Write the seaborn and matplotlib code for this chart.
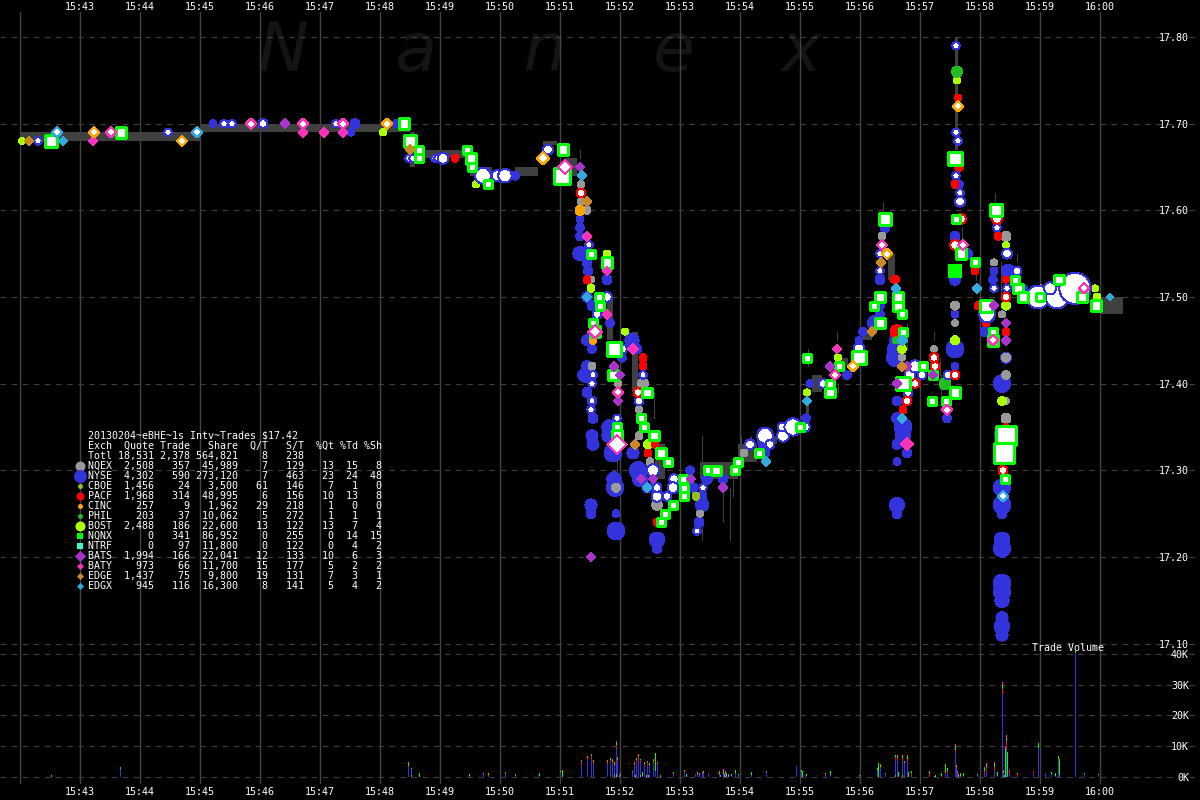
import pandas as pd
import matplotlib
matplotlib.use("Agg")
import matplotlib.pyplot as plt
import seaborn as sns

# All times are seconds after 15:42, prices in dollars, trade sizes in shares.
time_labels = ['', '15:43', '15:44', '15:45', '15:46', '15:47', '15:48', '15:49', '15:50', '15:51',
               '15:52', '15:53', '15:54', '15:55', '15:56', '15:57', '15:58', '15:59', '16:00']
price_ticks = [17.10, 17.20, 17.30, 17.40, 17.50, 17.60, 17.70, 17.80]
volume_ticks = [0, 10, 20, 30, 40]

# exchange summary table
exch = ['NQEX', 'NYSE', 'CBOE', 'PACF', 'CINC', 'PHIL', 'BOST', 'NQNX', 'NTRF', 'BATS', 'BATY', 'EDGE', 'EDGX']
quote = [2508, 4302, 1456, 1968, 257, 203, 2488, 0, 0, 1994, 973, 1437, 945]
trade = [357, 590, 24, 314, 9, 37, 186, 341, 97, 166, 66, 75, 116]
share = [45989, 273120, 3500, 48995, 1962, 10062, 22600, 86952, 11800, 22041, 11700, 9800, 16300]
q_per_t = [7, 7, 61, 6, 29, 5, 13, 0, 0, 12, 15, 19, 8]
s_per_t = [129, 463, 146, 156, 218, 272, 122, 255, 122, 133, 177, 131, 141]
pct_qt = [13, 23, 7, 10, 1, 1, 13, 0, 0, 10, 5, 7, 5]
pct_td = [15, 24, 1, 13, 0, 1, 7, 14, 4, 6, 2, 3, 4]
pct_sh = [8, 48, 0, 8, 0, 1, 4, 15, 2, 3, 2, 1, 2]

colors = {'NQEX': '#999999', 'NYSE': '#3333dd', 'CBOE': '#99bb22', 'PACF': '#ff0000', 'CINC': '#ffa500',
          'PHIL': '#22bb22', 'BOST': '#aaff00', 'NQNX': '#00ff00', 'NTRF': '#33ffcc', 'BATS': '#aa33cc',
          'BATY': '#ff33bb', 'EDGE': '#cc8822', 'EDGX': '#33aadd'}

# best bid / offer band, low == high where there is no band
spread_sec = [0, 180, 390, 395, 450, 472, 495, 518, 523, 537, 545, 557, 587, 593, 612, 618, 635, 645, 680, 718,
              737, 757, 786, 789, 792, 802, 815, 828, 842, 852, 868, 875, 935, 938, 1080, 1103]
spread_lo = [17.68, 17.69, 17.65, 17.66, 17.64, 17.635, 17.64, 17.65, 17.675, 17.64, 17.64, 17.64, 17.45, 17.45,
             17.39, 17.39, 17.29, 17.29, 17.29, 17.31, 17.33, 17.33, 17.35, 17.35, 17.39, 17.39, 17.42, 17.42,
             17.45, 17.45, 17.52, 17.52, 17.67, 17.67, 17.48, 17.48]
spread_hi = [17.69, 17.70, 17.69, 17.67, 17.65, 17.64, 17.65, 17.65, 17.68, 17.64, 17.66, 17.64, 17.50, 17.45,
             17.46, 17.39, 17.33, 17.29, 17.31, 17.33, 17.34, 17.33, 17.38, 17.35, 17.41, 17.39, 17.43, 17.42,
             17.46, 17.45, 17.55, 17.52, 17.80, 17.67, 17.50, 17.48]

wick_sec = [634, 682, 703, 710, 713, 721, 731, 597, 560, 788, 817, 825, 818, 887, 920, 914, 921, 863,
            937, 942, 956, 975, 981, 997, 887]
wick_lo = [17.36, 17.22, 17.24, 17.22, 17.27, 17.33, 17.33, 17.29, 17.66, 17.42, 17.45, 17.41, 17.39, 17.45,
           17.41, 17.45, 17.38, 17.59, 17.69, 17.55, 17.52, 17.61, 17.50, 17.54, 17.44]
wick_hi = [17.39, 17.34, 17.29, 17.28, 17.30, 17.34, 17.34, 17.33, 17.67, 17.44, 17.46, 17.43, 17.40, 17.47,
           17.43, 17.46, 17.41, 17.61, 17.80, 17.58, 17.54, 17.62, 17.54, 17.55, 17.47]

nyse_fill = [(98, 17.69, 2560), (193, 17.70, 2000), (335, 17.70, 3240), (376, 17.70, 2000), (331, 17.69, 2000),
             (495, 17.64, 2560), (560, 17.59, 2000), (560, 17.58, 2560), (560, 17.57, 2560), (560, 17.55, 6760),
             (567, 17.54, 3240), (568, 17.53, 3240), (567, 17.50, 4000), (572, 17.49, 3240), (573, 17.47, 3240),
             (567, 17.45, 4000), (572, 17.44, 2560), (567, 17.42, 4000), (565, 17.41, 6760), (567, 17.39, 3240),
             (572, 17.38, 3240), (573, 17.36, 3240), (572, 17.34, 4840), (573, 17.33, 4840), (571, 17.26, 4840),
             (571, 17.25, 3240), (596, 17.23, 10240), (596, 17.25, 2000), (595, 17.28, 10240), (594, 17.29, 6760),
             (593, 17.32, 10240), (589, 17.35, 6760), (589, 17.34, 6760), (587, 17.52, 3240), (590, 17.47, 2560),
             (595, 17.44, 3240), (602, 17.43, 2560), (612, 17.45, 6760), (617, 17.44, 3240), (613, 17.32, 4840),
             (618, 17.30, 10240), (620, 17.29, 7840), (627, 17.28, 3240), (637, 17.22, 7840), (637, 17.21, 3240),
             (670, 17.30, 2560), (687, 17.29, 4000), (682, 17.27, 3240), (682, 17.26, 5760), (679, 17.24, 3240),
             (673, 17.28, 3240), (703, 17.29, 3240), (745, 17.32, 3240), (743, 17.33, 3240), (786, 17.36, 2560),
             (790, 17.40, 2000), (827, 17.41, 2560), (839, 17.45, 2000), (860, 17.48, 2560), (860, 17.49, 2560),
             (855, 17.47, 7840), (843, 17.46, 2560), (875, 17.43, 10240), (875, 17.44, 7840), (883, 17.35, 10240),
             (883, 17.34, 7840), (877, 17.38, 3240), (877, 17.36, 4000), (877, 17.33, 3240), (887, 17.32, 3240),
             (877, 17.31, 2000), (935, 17.48, 2000), (935, 17.44, 10240), (935, 17.42, 2000), (927, 17.36, 2560),
             (877, 17.26, 7840), (877, 17.25, 3240), (935, 17.52, 4000), (935, 17.57, 3240), (947, 17.55, 4000),
             (939, 17.63, 2560), (860, 17.52, 3240), (865, 17.58, 3240), (974, 17.53, 2000), (973, 17.52, 2560),
             (988, 17.53, 5760), (1003, 17.51, 2560), (965, 17.46, 3240), (875, 17.45, 4000), (982, 17.40, 10240),
             (986, 17.43, 4000), (982, 17.28, 10240), (982, 17.26, 10240), (982, 17.25, 3240), (982, 17.22, 7840),
             (982, 17.21, 10240), (982, 17.17, 10240), (982, 17.16, 10240), (982, 17.15, 6760), (982, 17.13, 4840),
             (982, 17.12, 7840), (982, 17.11, 4840), (982, 17.34, 7840)]

nyse_quote = [(18, 17.68, 1440), (148, 17.69, 1440), (204, 17.70, 1440), (212, 17.70, 1440), (243, 17.70, 2000),
              (316, 17.70, 1440), (177, 17.69, 1440), (389, 17.66, 1440), (393, 17.66, 1440), (415, 17.66, 1440),
              (418, 17.66, 1440), (423, 17.66, 3240), (463, 17.64, 6760), (477, 17.64, 3240), (485, 17.64, 4840),
              (528, 17.67, 2560), (569, 17.56, 1440), (577, 17.48, 2000), (587, 17.50, 2560), (573, 17.41, 1440),
              (572, 17.40, 1440), (572, 17.38, 1440), (571, 17.37, 1440), (597, 17.36, 1440), (602, 17.44, 2560),
              (623, 17.41, 1440), (619, 17.38, 2000), (633, 17.30, 4000), (637, 17.27, 3240), (654, 17.29, 2560),
              (653, 17.28, 3240), (647, 17.27, 2000), (683, 17.28, 1440), (677, 17.23, 1440), (637, 17.28, 2000),
              (730, 17.33, 2560), (745, 17.34, 6760), (763, 17.34, 4000), (750, 17.33, 2000), (762, 17.35, 2000),
              (773, 17.35, 7840), (785, 17.35, 2560), (803, 17.40, 2000), (839, 17.44, 3240), (890, 17.41, 3240),
              (888, 17.39, 2000), (928, 17.41, 2000), (935, 17.41, 2000), (895, 17.42, 4000), (902, 17.41, 2000),
              (936, 17.79, 1440), (938, 17.68, 1440), (936, 17.69, 1440), (939, 17.66, 2000), (936, 17.64, 1440),
              (940, 17.62, 1440), (940, 17.61, 2560), (860, 17.55, 1440), (860, 17.53, 1440), (967, 17.48, 6760),
              (974, 17.51, 1440), (987, 17.51, 1440), (997, 17.53, 2000), (987, 17.55, 2560), (977, 17.58, 1440),
              (1018, 17.50, 14000), (1037, 17.50, 14000), (1030, 17.51, 4000), (1055, 17.51, 26000), (1077, 17.49, 2560)]

pacf_fill = [(435, 17.66, 2560), (567, 17.52, 2560), (623, 17.43, 2560), (623, 17.42, 2560), (635, 17.33, 2560),
             (628, 17.32, 2560), (637, 17.24, 2560), (938, 17.73, 2000), (939, 17.65, 3240), (935, 17.63, 2560),
             (955, 17.53, 2560), (875, 17.52, 3240), (978, 17.57, 2560), (986, 17.52, 2000), (958, 17.49, 2560),
             (966, 17.47, 2560), (986, 17.46, 2560), (883, 17.37, 2560), (877, 17.46, 7840), (986, 17.35, 2000)]

pacf_quote = [(561, 17.62, 2000), (618, 17.39, 2000), (914, 17.43, 2000), (915, 17.42, 2000), (935, 17.41, 2000),
              (895, 17.40, 2000), (887, 17.38, 2000), (941, 17.59, 2560), (977, 17.59, 2560), (935, 17.56, 2560),
              (986, 17.50, 2000), (985, 17.32, 2000), (983, 17.30, 2000)]

nqex_fill = [(561, 17.63, 2000), (561, 17.61, 2000), (567, 17.60, 2560), (571, 17.52, 2000), (572, 17.42, 2560),
             (598, 17.40, 2000), (623, 17.40, 4840), (619, 17.37, 2000), (619, 17.34, 2560), (630, 17.31, 2560),
             (596, 17.28, 3240), (637, 17.26, 4840), (724, 17.32, 2560), (680, 17.25, 2000), (882, 17.43, 2000),
             (914, 17.44, 2000), (986, 17.43, 3240), (986, 17.41, 3240), (986, 17.38, 2000), (986, 17.36, 4000),
             (935, 17.49, 3240), (935, 17.47, 2000), (974, 17.54, 2000), (986, 17.57, 4000), (982, 17.48, 2000),
             (862, 17.57, 2560)]

bost_fill = [(571, 17.51, 2560), (628, 17.33, 3240), (605, 17.46, 2000), (587, 17.55, 2000), (2, 17.68, 2000),
             (363, 17.69, 2000), (456, 17.63, 2000), (787, 17.39, 2000), (818, 17.43, 2000), (860, 17.47, 2000),
             (882, 17.44, 3240), (935, 17.45, 3240), (937, 17.75, 2000), (986, 17.49, 3240), (1075, 17.51, 2000),
             (1077, 17.50, 2560), (986, 17.56, 2000), (982, 17.38, 3240), (31, 17.68, 2000), (955, 17.54, 2000)]

phil_fill = [(937, 17.76, 4840), (925, 17.40, 5760), (876, 17.45, 2000)]
cinc_fill = [(560, 17.60, 4000), (573, 17.45, 2560)]
cboe_fill = [(676, 17.27, 2560), (1021, 17.51, 2000)]
nqnx_fill = [(935, 17.53, 7840)]

nqnx_quote = [(31, 17.68, 3240), (101, 17.69, 2560), (384, 17.70, 2560), (390, 17.68, 3240), (399, 17.67, 1440),
              (399, 17.66, 1440), (447, 17.67, 1440), (451, 17.66, 2560), (452, 17.65, 1440), (468, 17.63, 1440),
              (543, 17.67, 2560), (542, 17.64, 5760), (571, 17.55, 1440), (579, 17.50, 1440), (580, 17.49, 1440),
              (573, 17.47, 1440), (575, 17.46, 2560), (587, 17.54, 2560), (594, 17.44, 4840), (593, 17.41, 2560),
              (597, 17.35, 1440), (597, 17.34, 2560), (627, 17.39, 2000), (621, 17.36, 1440), (624, 17.35, 1440),
              (634, 17.34, 2000), (641, 17.32, 2560), (648, 17.31, 1440), (663, 17.29, 1440), (664, 17.28, 1440),
              (664, 17.27, 1440), (653, 17.26, 1440), (645, 17.25, 1440), (641, 17.24, 1440), (688, 17.30, 1440),
              (696, 17.30, 2000), (715, 17.30, 1440), (739, 17.32, 1440), (718, 17.31, 1440), (787, 17.43, 1440),
              (810, 17.39, 2000), (810, 17.40, 1440), (819, 17.42, 1440), (839, 17.43, 4000), (780, 17.35, 1440),
              (860, 17.47, 2560), (854, 17.49, 1440), (878, 17.49, 2560), (882, 17.48, 1440), (883, 17.46, 1440),
              (883, 17.40, 4000), (912, 17.38, 1440), (935, 17.39, 2560), (913, 17.41, 1440), (926, 17.38, 1440),
              (865, 17.59, 3240), (860, 17.50, 2000), (878, 17.50, 2560), (935, 17.66, 4000), (936, 17.59, 1440),
              (941, 17.55, 2560), (955, 17.54, 1440), (976, 17.60, 3240), (966, 17.49, 3240), (973, 17.46, 1440),
              (973, 17.45, 2560), (995, 17.52, 1440), (998, 17.51, 2000), (1003, 17.50, 2000), (1020, 17.50, 1440),
              (1039, 17.52, 2000), (1062, 17.50, 2000), (1076, 17.49, 2560), (986, 17.34, 8400), (984, 17.32, 8400),
              (985, 17.29, 1440), (903, 17.42, 1440)]

white_diamonds_cyan = [(37, 17.69, 1440), (177, 17.69, 1440), (983, 17.27, 1440)]
white_diamonds_orange = [(74, 17.69, 1440), (162, 17.68, 1440), (367, 17.70, 1440), (938, 17.72, 1440),
                         (867, 17.55, 1440), (523, 17.66, 2000), (833, 17.42, 1440)]
white_diamonds_pink = [(91, 17.69, 1440), (231, 17.70, 1440), (283, 17.70, 1440), (323, 17.70, 1440),
                       (545, 17.65, 2560), (597, 17.33, 5000), (598, 17.39, 1440), (575, 17.46, 2560),
                       (927, 17.37, 1440), (815, 17.41, 1440), (862, 17.56, 1440), (943, 17.56, 1440),
                       (1064, 17.51, 1440), (973, 17.45, 1440)]

baty_fill = [(73, 17.68, 1440), (283, 17.69, 1440), (304, 17.69, 1440), (323, 17.69, 1440), (567, 17.57, 1440),
             (587, 17.53, 1440), (587, 17.48, 1440), (817, 17.44, 1440), (887, 17.33, 2560), (613, 17.44, 2000)]
bats_fill = [(265, 17.70, 1440), (560, 17.65, 1440), (600, 17.41, 1440), (598, 17.38, 1440), (621, 17.29, 1440),
             (633, 17.29, 1440), (671, 17.29, 1440), (703, 17.28, 1440), (571, 17.20, 1440), (810, 17.42, 1440),
             (887, 17.42, 1440), (877, 17.40, 1440), (913, 17.41, 1440), (986, 17.47, 1440), (986, 17.45, 1440),
             (974, 17.49, 1440), (594, 17.42, 1440)]
edgx_fill = [(43, 17.68, 1440), (562, 17.64, 1440), (567, 17.50, 1440), (746, 17.31, 1440), (787, 17.38, 1440),
             (882, 17.45, 1440), (882, 17.36, 1440), (957, 17.51, 1440), (876, 17.51, 1440), (883, 17.45, 1440),
             (627, 17.28, 1440), (1090, 17.50, 600)]
edge_fill = [(9, 17.68, 1440), (567, 17.61, 1440), (861, 17.54, 1440), (615, 17.33, 1440), (882, 17.42, 1440),
             (852, 17.46, 1440), (390, 17.67, 1440)]

# trade volume, thousands of shares per second
vol_sec = [31, 100, 388, 391, 399, 449, 463, 468, 485, 495, 519, 540, 542, 561, 567, 571, 573, 587, 590, 592, 594,
           596, 597, 600, 612, 614, 616, 618, 620, 622, 624, 627, 629, 633, 635, 637, 653, 664, 666, 675, 677, 679,
           682, 683, 688, 699, 703, 705, 711, 715, 718, 731, 746, 776, 781, 782, 786, 805, 810, 839, 857, 858, 860,
           865, 875, 877, 878, 882, 884, 887, 888, 891, 909, 914, 921, 925, 927, 935, 936, 937, 940, 943, 957, 964,
           966, 974, 977, 982, 983, 985, 986, 987, 989, 997, 1013, 1018, 1025, 1031, 1035, 1038, 1039, 1055, 1064, 1078]
vol_nyse = [0, 2.6, 3.3, 2.0, 0, 0, 1.0, 0.3, 1.0, 0.3, 0.3, 1.3, 0, 3.9, 5.5, 5.9, 4.2, 4.2, 4.9, 4.2, 2.6, 8.5, 4.9,
            0.6, 1.6, 3.6, 4.6, 5.9, 4.2, 0.3, 3.6, 4.6, 3.6, 4.6, 2.0, 4.2, 1.0, 1.6, 0, 1.0, 0.6, 0.6, 1.0, 1.3, 1.3,
            0.6, 1.0, 1.0, 0.3, 1.0, 0.6, 0.6, 1.6, 3.6, 1.6, 0, 0.3, 0.6, 0.6, 0.3, 2.3, 0, 2.9, 1.0, 5.2, 5.5, 0,
            4.9, 4.2, 5.2, 0, 0, 0, 0, 0, 1.3, 1.3, 7.8, 2.6, 0.6, 0, 0.3, 0.6, 1.0, 2.3, 2.3, 0.3, 27.0, 1.0, 0, 9.1,
            0, 1.0, 0.3, 1.3, 9.4, 1.3, 1.0, 0.3, 5.2, 0.6, 0.3, 1.0, 0.6]
vol_pacf = [0, 0, 0.3, 0, 0, 0.3, 0, 0.3, 0.3, 0, 0, 0.3, 0, 1.0, 0.6, 1.0, 0.6, 0.6, 0.6, 0.6, 0.3, 1.0, 0.6,
            0, 0, 0.6, 1.0, 1.0, 0.6, 0, 0.6, 0.3, 0.3, 0.6, 0, 0.3, 0.3, 0.3, 0, 0, 0.3, 0, 0.3, 0, 0, 0.3, 0,
            0, 0, 0.3, 0, 0, 0, 0, 0, 0, 0, 0.3, 0, 0, 0, 0, 0.3, 0, 0.6, 0.6, 0.3, 0.6, 0.3, 0.6, 0, 1.3, 1.0, 0,
            0.3, 0.3, 0.6, 1.0, 0.6, 0.6, 0.3, 0, 0, 1.0, 1.0, 1.0, 0, 1.6, 0.3, 0, 2.6, 0, 1.0, 0.6, 0.6, 0, 0, 0, 0,
            0.6, 0, 0, 0, 0]
vol_nqnx = [0.8, 0.3, 1.0, 0.3, 1.3, 0.6, 0, 0.6, 0.3, 0.3, 1.0, 0.3, 2.3, 0.3, 0.3, 0.3, 0.3, 0.3, 0.3, 0.6, 0.6, 0.6, 0.6,
            0.3, 0, 0.3, 0.3, 0.3, 0.3, 1.3, 0.3, 0.3, 0.6, 0.3, 5.9, 0.3, 0.3, 0.3, 1.0, 0, 0.3, 0.3, 0, 0.6, 0, 0.6,
            1.0, 0.3, 0.6, 1.0, 0.3, 1.0, 0.3, 0, 0.6, 2.0, 0.6, 0.3, 1.3, 0.3, 0.6, 4.6, 0.6, 0, 0.6, 0.6, 1.3, 0.6,
            0.3, 1.0, 1.6, 0.6, 0.6, 0.3, 1.0, 2.6, 1.0, 1.3, 0.3, 0.3, 0.6, 1.0, 0.3, 1.0, 0.6, 1.0, 1.3, 1.3, 0.3,
            9.1, 1.0, 8.1, 0, 0.3, 0, 1.6, 0, 0.6, 1.0, 1.0, 5.2, 0.6, 0.3, 0.3]
vol_baty = [0, 0.3, 0.3, 0, 0, 0, 0.3, 0, 0, 0.3, 0, 0, 0, 0.3, 0.3, 0.3, 0.3, 0.3, 0.3, 0.3, 0.3, 0.6, 0.3,
            0.3, 0.3, 0.3, 0.3, 0.3, 0.3, 0, 0.3, 0, 0, 0.3, 0, 0, 0, 0, 0, 0, 0.3, 0.3, 0.3, 0, 0, 0.3, 0.6,
            0.6, 0, 0, 0, 0, 0, 0, 0, 0, 0, 0, 0, 0, 0, 0, 0.3, 0.3, 0.3, 0.3, 0, 0.3, 0.3, 0.3, 0, 0, 0.3, 0,
            0, 0, 0, 0.6, 0.3, 0.3, 0.3, 0, 0, 0.3, 0.6, 0.6, 0, 1.0, 0.6, 0.6, 1.0, 0, 0.3, 0, 0, 0, 0, 0, 0, 0, 0, 0, 0, 0]
vol_nqex = [(391, 0.6), (599, 0.6), (596, 1.0), (594, 1.0), (615, 0.6), (620, 0.6), (626, 0.6), (628, 0.6), (640, 0.6),
            (700, 0.6), (704, 1.0), (706, 1.3), (708, 1.0), (875, 0.6), (882, 0.6), (915, 0.6), (938, 1.0), (984, 0.6)]

sns.set_theme(style='dark', rc={'figure.facecolor': 'black', 'axes.facecolor': 'black', 'savefig.facecolor': 'black',
                                'axes.grid': False})
plt.rcParams['font.family'] = ['DejaVu Sans Mono']

fig = plt.figure(figsize=(12, 8), dpi=100)
ax = fig.add_axes([0, 150 / 800, 1, 638 / 800])
ax_vol = fig.add_axes([0, 16 / 800, 1, 134 / 800])


def draw_marks(rows, marker, face, edge, lw=0.7, zorder=3, scale=1.0):
    df = pd.DataFrame(rows, columns=['sec', 'price', 'shares'])
    sns.scatterplot(data=df, x='sec', y='price', size='shares', sizes=(0, 830 * scale), size_norm=(0, 64000),
                    marker=marker, color=face, edgecolor=edge, linewidth=lw, legend=False, antialiased=False,
                    zorder=zorder, ax=ax)


ax.text(258 / 1200, 1 - 52 / 800, 'N    a    n    e    x', transform=fig.transFigure, color='#141414', fontsize=49,
        family='DejaVu Sans', style='italic', va='center', ha='left', zorder=0.5)

ax.fill_between(spread_sec, spread_lo, spread_hi, step='post', color='#404040', lw=0, antialiased=False, zorder=1)
ax.vlines(wick_sec, wick_lo, wick_hi, color='#404040', lw=0.72, antialiased=False, zorder=1)

draw_marks(nyse_fill, 'o', colors['NYSE'], colors['NYSE'], lw=0, zorder=3, scale=1.2)
draw_marks(nqex_fill, 'o', colors['NQEX'], colors['NQEX'], lw=0, zorder=3.1)
draw_marks(bost_fill, 'o', colors['BOST'], colors['BOST'], lw=0, zorder=3.1)
draw_marks(pacf_fill, 'o', colors['PACF'], colors['PACF'], lw=0, zorder=3.1)
draw_marks(phil_fill, 'o', colors['PHIL'], colors['PHIL'], lw=0, zorder=3.1)
draw_marks(cinc_fill, 'o', colors['CINC'], colors['CINC'], lw=0, zorder=3.1)
draw_marks(cboe_fill, 'o', colors['CBOE'], colors['CBOE'], lw=0, zorder=3.1)
draw_marks(nyse_quote, 'o', 'white', colors['NYSE'], zorder=3.3, scale=1.5)
draw_marks(pacf_quote, 'o', 'white', colors['PACF'], zorder=3.3, scale=1.5)
draw_marks(nqnx_fill, 's', colors['NQNX'], colors['NQNX'], lw=0, zorder=3.4)
draw_marks(nqnx_quote, 's', 'white', colors['NQNX'], lw=1.0, zorder=3.4, scale=1.8)
draw_marks(baty_fill, 'D', colors['BATY'], colors['BATY'], lw=0, zorder=3.5, scale=1.4)
draw_marks(bats_fill, 'D', colors['BATS'], colors['BATS'], lw=0, zorder=3.5, scale=1.4)
draw_marks(edgx_fill, 'D', colors['EDGX'], colors['EDGX'], lw=0, zorder=3.5, scale=1.4)
draw_marks(edge_fill, 'D', colors['EDGE'], colors['EDGE'], lw=0, zorder=3.5, scale=1.4)
draw_marks(white_diamonds_cyan, 'D', 'white', colors['EDGX'], lw=0.6, zorder=3.6, scale=1.5)
draw_marks(white_diamonds_orange, 'D', 'white', colors['CINC'], lw=0.6, zorder=3.6, scale=1.5)
draw_marks(white_diamonds_pink, 'D', 'white', colors['BATY'], lw=0.6, zorder=3.6, scale=1.5)

# volume panel, stacked per second
vol = pd.concat([
    pd.DataFrame({'sec': vol_sec, 'K': vol_nyse, 'exch': 'NYSE'}),
    pd.DataFrame({'sec': vol_sec, 'K': vol_pacf, 'exch': 'PACF'}),
    pd.DataFrame({'sec': vol_sec, 'K': vol_nqnx, 'exch': 'NQNX'}),
    pd.DataFrame({'sec': vol_sec, 'K': vol_baty, 'exch': 'BATY'}),
    pd.DataFrame(vol_nqex, columns=['sec', 'K']).assign(exch='NQEX'),
    pd.DataFrame({'sec': [1055], 'K': [40.0], 'exch': 'NYSE'}),
])
sns.histplot(data=vol, x='sec', weights='K', hue='exch', hue_order=['BATY', 'NQNX', 'PACF', 'NYSE', 'NQEX'],
             palette=colors, multiple='stack', binwidth=1, binrange=(0, 1100), linewidth=0, alpha=1, legend=False,
             antialiased=False, zorder=3, ax=ax_vol)

grid_sec = list(range(0, 1081, 60))
for a in (ax, ax_vol):
    a.set_xlim(-20, 1180)
    a.set_xticks(grid_sec)
    a.set_xlabel('')
    a.set_ylabel('')
    a.grid(axis='x', color='#444444', lw=1, ls='-', zorder=0.8)
    a.grid(axis='y', color='#404040', lw=0.8, ls=(0, (5, 5)), zorder=0.8)
    a.set_axisbelow(True)
    a.yaxis.tick_right()
    sns.despine(ax=a, left=True, bottom=True, right=True, top=True)

ax.set_ylim(17.0927, 17.8288)
ax.set_yticks(price_ticks, [f'{p:.2f}' for p in price_ticks])
ax.xaxis.tick_top()
ax.set_xticklabels(time_labels)
ax.tick_params(axis='y', length=0, pad=-30, labelsize=7.2, labelcolor='white')
ax.tick_params(axis='x', length=0, pad=0, labelsize=7.2, labelcolor='white')

ax_vol.set_ylim(-2.28, 41.3)
ax_vol.set_yticks(volume_ticks, [f'{v}K' for v in volume_ticks])
ax_vol.set_xticklabels(time_labels)
ax_vol.tick_params(axis='y', length=0, pad=-8, labelsize=7.2, labelcolor='white')
for lab in ax_vol.get_yticklabels():
    lab.set_ha('right')
ax_vol.tick_params(axis='x', length=0, pad=2, labelsize=7.2, labelcolor='white')

fig.text(1032 / 1200, 1 - 648 / 800, 'Trade Volume', color='white', fontsize=7.2, va='center')

# summary table
table = ['20130204~eBHE~1s Intv~Trades $17.42',
         f"{'Exch':<4}{'Quote':>7}{'Trade':>6}{'Share':>8}{'Q/T':>5}{'S/T':>6}{'%Qt':>5}{'%Td':>4}{'%Sh':>4}",
         f"{'Totl':<4}{'18,531':>7}{'2,378':>6}{'564,821':>8}{8:>5}{238:>6}"]
for i, name in enumerate(exch):
    table.append(f"{name:<4}{quote[i]:>7,}{trade[i]:>6,}{share[i]:>8,}{q_per_t[i]:>5}{s_per_t[i]:>6}"
                 f"{pct_qt[i]:>5}{pct_td[i]:>4}{pct_sh[i]:>4}")
for i, row in enumerate(table):
    fig.text(88 / 1200, 1 - (435.7 + 10 * i) / 800, row, color='white', fontsize=7.2, va='center', zorder=6)

key_marker = ['o', 'o', 'o', 'o', 'o', 'o', 'o', 's', 's', 'D', 'D', 'D', 'D']
key_area = [52, 88, 13, 33, 13, 13, 52, 13, 13, 32, 13, 13, 13]
for i, name in enumerate(exch):
    ax.scatter(80 / 1200, 1 - (465.7 + 10 * i) / 800, s=key_area[i], marker=key_marker[i], color=colors[name], lw=0,
               transform=fig.transFigure, clip_on=False, antialiased=False, zorder=5)

fig.savefig('out.png', dpi=100, facecolor='black')
